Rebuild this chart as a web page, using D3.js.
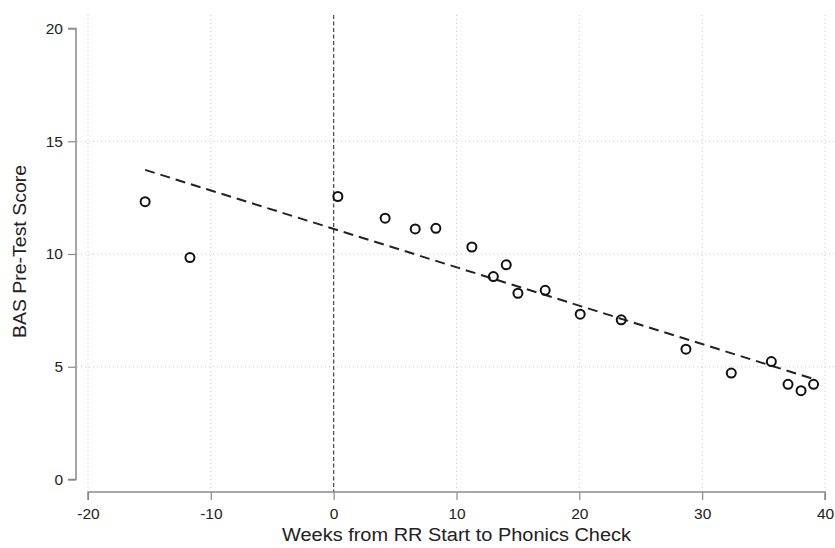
<!DOCTYPE html>
<html><head><meta charset="utf-8">
<script src="https://cdn.jsdelivr.net/npm/d3@7"></script>
<style>body{margin:0;background:#fff;}text{font-family:"Liberation Sans",Arial,sans-serif;}</style>
</head><body><svg id="c" width="835" height="548"></svg>
<script>
const weeks = [-15.35,-11.7,0.34,4.19,6.64,8.32,11.25,13.0,14.05,15.0,17.22,20.07,23.41,28.68,32.37,35.63,36.99,38.05,39.07];
const scores = [12.32,9.84,12.55,11.59,11.11,11.14,10.31,9.0,9.52,8.26,8.39,7.33,7.08,5.78,4.72,5.23,4.22,3.94,4.22];
const fitX = [-15.35, 39.07];
const fitY = [13.73, 4.46];
const xTicks = [-20,-10,0,10,20,30,40];
const yTicks = [0,5,10,15,20];

const svg = d3.select("#c");
const x = d3.scaleLinear().domain([-20,40]).range([88,825]);
const y = d3.scaleLinear().domain([0,20]).range([479.5,28.5]);

// gridlines
const g = svg.append("g");
g.selectAll(".vg").data(xTicks.filter(d=>d!==0)).enter().append("line")
  .attr("x1",d=>x(d)).attr("x2",d=>x(d)).attr("y1",15).attr("y2",488)
  .attr("stroke","#c8c8c8").attr("stroke-width",1).attr("stroke-dasharray","1,3");
g.selectAll(".hg").data([5,10,15]).enter().append("line")
  .attr("x1",77).attr("x2",835).attr("y1",d=>y(d)).attr("y2",d=>y(d))
  .attr("stroke","#c8c8c8").attr("stroke-width",1).attr("stroke-dasharray","1,3");

// zero line
svg.append("line").attr("x1",x(0)).attr("x2",x(0)).attr("y1",15).attr("y2",492)
  .attr("stroke","#444").attr("stroke-width",1.2).attr("stroke-dasharray","4,2.5");

// axes
const fmt = d=>String(d);
const xa = svg.append("g").attr("transform","translate(0,492)")
  .call(d3.axisBottom(x).tickValues(xTicks).tickSize(8).tickPadding(8).tickFormat(fmt));
const ya = svg.append("g").attr("transform","translate(76,0)")
  .call(d3.axisLeft(y).tickValues(yTicks).tickSize(8).tickPadding(5).tickFormat(fmt));
[xa,ya].forEach(a=>{
  a.select(".domain").attr("stroke","#8a8a8a").attr("stroke-width",1.5);
  a.selectAll(".tick line").attr("stroke","#8a8a8a").attr("stroke-width",1.2);
  a.selectAll(".tick text").attr("fill","#222").style("font-size","15.5px").style("font-family","'Liberation Sans',Arial,sans-serif");
});
xa.select(".domain").attr("d",`M${x(-20)},8V0H${x(40)}V8`);
ya.select(".domain").attr("d",`M-8,${y(20)}H0V${y(0)}H-8`);

// fit line
svg.append("path").datum(fitX.map((d,i)=>[d,fitY[i]]))
  .attr("d",d3.line().x(d=>x(d[0])).y(d=>y(d[1])))
  .attr("fill","none").attr("stroke","#222").attr("stroke-width",2).attr("stroke-dasharray","10,6");

// points
svg.selectAll(".pt").data(weeks.map((d,i)=>[d,scores[i]])).enter().append("circle")
  .attr("cx",d=>x(d[0])).attr("cy",d=>y(d[1])).attr("r",4.5)
  .attr("fill","none").attr("stroke","#111").attr("stroke-width",2);

// titles
svg.append("text").attr("x",(x(-20)+x(40))/2).attr("y",541).attr("text-anchor","middle")
  .attr("textLength",349).attr("lengthAdjust","spacingAndGlyphs")
  .style("font-size","18px").attr("fill","#222").text("Weeks from RR Start to Phonics Check");
svg.append("text").attr("transform",`translate(26,251.5) rotate(-90)`).attr("text-anchor","middle")
  .attr("textLength",173).attr("lengthAdjust","spacingAndGlyphs")
  .style("font-size","18px").attr("fill","#222").text("BAS Pre-Test Score");
</script></body></html>
